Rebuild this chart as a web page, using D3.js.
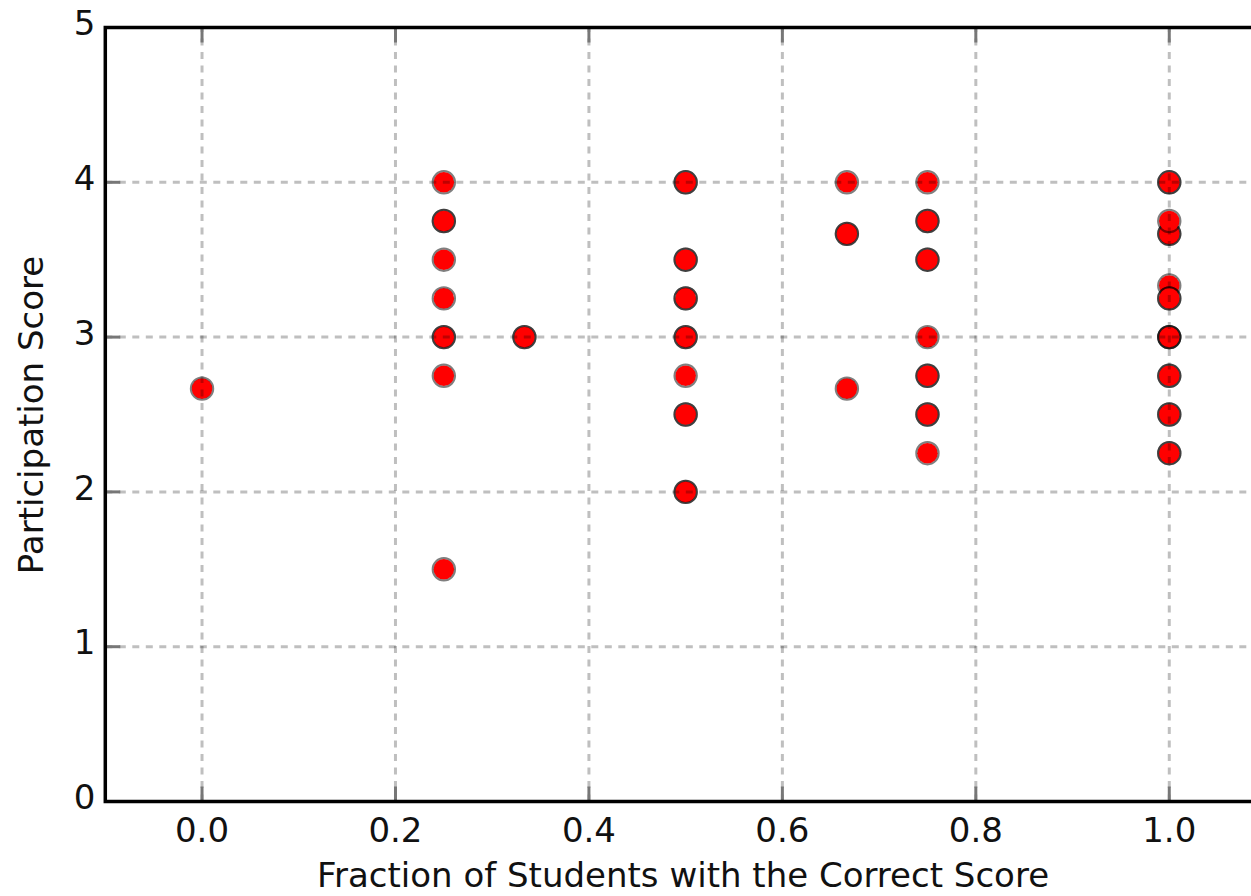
<!DOCTYPE html>
<html>
<head>
<meta charset="utf-8">
<script src="https://cdn.jsdelivr.net/npm/d3@7"></script>
<style>
  html, body { margin: 0; padding: 0; background: #fff; }
  svg { display: block; }
  text { font-family: "DejaVu Sans", sans-serif; fill: #111; }
</style>
</head>
<body>
<div id="chart"></div>
<script>
// Fraction of students with the correct score for each record
const fraction = [
  0.0,
  0.25, 0.25, 0.25, 0.25, 0.25, 0.25, 0.25, 0.25, 0.25,
  0.3333, 0.3333,
  0.5, 0.5, 0.5, 0.5, 0.5, 0.5, 0.5, 0.5, 0.5, 0.5, 0.5, 0.5, 0.5,
  0.6667, 0.6667, 0.6667, 0.6667,
  0.75, 0.75, 0.75, 0.75, 0.75, 0.75, 0.75, 0.75, 0.75, 0.75, 0.75,
  1.0, 1.0, 1.0, 1.0, 1.0, 1.0, 1.0, 1.0, 1.0, 1.0, 1.0, 1.0, 1.0, 1.0, 1.0, 1.0, 1.0
];
// Matching participation score for each record
const participation = [
  2.667,
  4.0, 3.75, 3.75, 3.5, 3.25, 3.0, 3.0, 2.75, 1.5,
  3.0, 3.0,
  4.0, 4.0, 3.5, 3.5, 3.25, 3.25, 3.0, 3.0, 2.75, 2.5, 2.5, 2.0, 2.0,
  4.0, 3.667, 3.667, 2.667,
  4.0, 3.75, 3.75, 3.5, 3.5, 3.0, 2.75, 2.75, 2.5, 2.5, 2.25,
  4.0, 4.0, 3.667, 3.667, 3.75, 3.333, 3.25, 3.25, 3.0, 3.0, 3.0, 2.75, 2.75, 2.5, 2.5, 2.25, 2.25
];

const xTicks = [0.0, 0.2, 0.4, 0.6, 0.8, 1.0];
const xTickLabels = ["0.0", "0.2", "0.4", "0.6", "0.8", "1.0"];
const yTicks = [0, 1, 2, 3, 4, 5];
const yTickLabels = ["0", "1", "2", "3", "4", "5"];
const xDomain = [-0.1, 1.1];
const yDomain = [0, 5];
const xTitle = "Fraction of Students with the Correct Score";
const yTitle = "Participation Score";

const W = 1251, H = 896;
const plot = { left: 105.3, right: 1266, top: 27.5, bottom: 801.5 };

const x = d3.scaleLinear().domain(xDomain).range([plot.left, plot.right]);
const y = d3.scaleLinear().domain(yDomain).range([plot.bottom, plot.top]);

const svg = d3.select("#chart").append("svg")
  .attr("width", W).attr("height", H)
  .attr("viewBox", `0 0 ${W} ${H}`);

const points = fraction.map((f, i) => ({ f, p: participation[i] }));

// Markers: red fill with a translucent dark ring, so stacked records read darker
const dots = svg.append("g").attr("class", "dots");
points.forEach(d => {
  dots.append("circle")
    .attr("cx", x(d.f)).attr("cy", y(d.p))
    .attr("r", 10.3)
    .attr("fill", "#ff0000");
  dots.append("circle")
    .attr("cx", x(d.f)).attr("cy", y(d.p))
    .attr("r", 11.2)
    .attr("fill", "none")
    .attr("stroke", "#000")
    .attr("stroke-opacity", 0.5)
    .attr("stroke-width", 2);
});

// Dashed grid, translucent and drawn over the markers
const grid = svg.append("g").attr("class", "grid")
  .attr("stroke", "#000").attr("stroke-opacity", 0.25)
  .attr("stroke-width", 3).attr("stroke-dasharray", "7,6.5");
grid.selectAll("line.gx").data(xTicks).join("line")
  .attr("class", "gx")
  .attr("x1", d => x(d)).attr("x2", d => x(d))
  .attr("y1", plot.bottom).attr("y2", plot.top);
grid.selectAll("line.gy").data(yTicks).join("line")
  .attr("class", "gy")
  .attr("y1", d => y(d)).attr("y2", d => y(d))
  .attr("x1", plot.left).attr("x2", plot.right);

// Inward tick marks on all four sides
const tickLen = 15;
const ticks = svg.append("g").attr("stroke", "#777").attr("stroke-width", 3);
xTicks.forEach(t => {
  ticks.append("line").attr("x1", x(t)).attr("x2", x(t))
    .attr("y1", plot.bottom).attr("y2", plot.bottom - tickLen);
  ticks.append("line").attr("x1", x(t)).attr("x2", x(t))
    .attr("y1", plot.top).attr("y2", plot.top + tickLen);
});
yTicks.forEach(t => {
  ticks.append("line").attr("y1", y(t)).attr("y2", y(t))
    .attr("x1", plot.left).attr("x2", plot.left + tickLen);
  ticks.append("line").attr("y1", y(t)).attr("y2", y(t))
    .attr("x1", plot.right).attr("x2", plot.right - tickLen);
});

// Axes frame
svg.append("rect")
  .attr("x", plot.left).attr("y", plot.top)
  .attr("width", plot.right - plot.left).attr("height", plot.bottom - plot.top)
  .attr("fill", "none").attr("stroke", "#000").attr("stroke-width", 3.5);

// Tick labels
const fontSize = 34;
svg.append("g").selectAll("text").data(xTicks).join("text")
  .attr("x", d => x(d)).attr("y", 841.5)
  .attr("text-anchor", "middle")
  .attr("font-size", fontSize)
  .text((d, i) => xTickLabels[i]);
svg.append("g").selectAll("text").data(yTicks).join("text")
  .attr("x", 95.5).attr("y", d => y(d) + 7.6)
  .attr("text-anchor", "end")
  .attr("font-size", fontSize)
  .text((d, i) => yTickLabels[i]);

// Axis titles
svg.append("text")
  .attr("x", (313 + 1053) / 2).attr("y", 887)
  .attr("text-anchor", "middle")
  .attr("font-size", fontSize)
  .text(xTitle);
svg.append("text")
  .attr("transform", "translate(43,415) rotate(-90)")
  .attr("text-anchor", "middle")
  .attr("font-size", fontSize)
  .text(yTitle);
</script>
</body>
</html>
